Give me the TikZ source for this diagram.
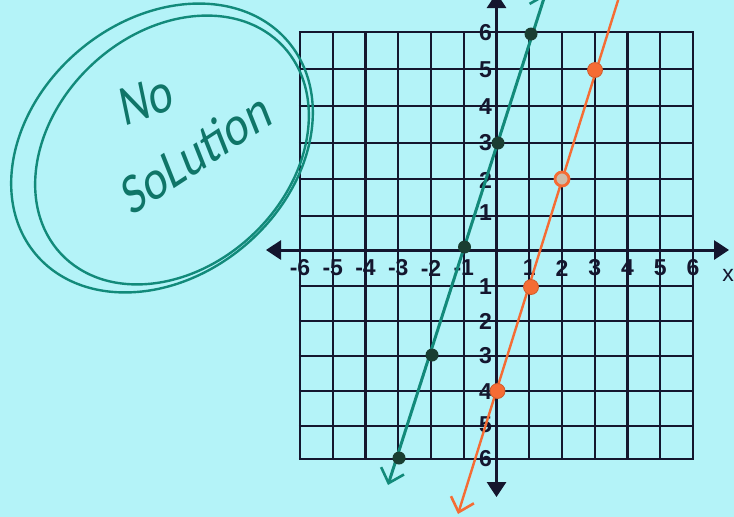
\documentclass[tikz,border=0pt]{standalone}
\usepackage{fontspec}
\setmainfont{Liberation Sans}
\newfontfamily\handfont{Carlito}
\usetikzlibrary{arrows.meta}
\definecolor{bgc}{RGB}{180,243,248}
\definecolor{gridc}{RGB}{20,22,46}
\definecolor{tealc}{RGB}{18,138,122}
\definecolor{tealdot}{RGB}{26,62,50}
\definecolor{orngc}{RGB}{245,108,52}
\tikzset{hbarb/.tip={Straight Barb[length=13pt,width=24pt,line width=2.6pt]},
         hbarbr/.tip={Straight Barb[length=13pt,width=24pt,line width=2.6pt,left]}}
\begin{document}
\begin{tikzpicture}[x=1pt,y=-1pt,
  gridline/.style={draw=gridc,line width=2.4pt},
  axisline/.style={draw=gridc,line width=3pt,{Triangle[length=15pt,width=19pt]}-{Triangle[length=15pt,width=19pt]}},
  lbl/.style={font=\bfseries\fontsize{23}{23}\selectfont,text=gridc,inner sep=0pt},
  gdot/.style={circle,fill=tealdot,minimum size=13pt,inner sep=0pt},
  odot/.style={circle,fill=orngc,draw=orngc!85!black,line width=0.8pt,minimum size=15pt,inner sep=0pt},
  oring/.style={circle,draw=orngc,line width=2.8pt,fill=orngc!40!bgc,minimum size=14pt,inner sep=0pt},
  gline/.style={draw=tealc,line width=3pt,line cap=round},
  oline/.style={draw=orngc,line width=2.4pt,line cap=round},
  ring/.style={draw=tealc,line width=2.4pt},
  handtxt/.style={font=\handfont\fontsize{58}{58}\selectfont,text=tealc!85!black,inner sep=0pt,xscale=0.78}]
\useasboundingbox (0,0) rectangle (734,517);
\clip (0,0) rectangle (734,517);
\fill[bgc] (0,0) rectangle (734,517);

% grid
\foreach \i in {0,...,12} \draw[gridline] ({300+\i*32.75},32) -- ({300+\i*32.75},459);
\foreach \py in {32,69,106,143,179,216,286,321,356,391,426,459} \draw[gridline] (298.8,\py) -- (694.2,\py);

% axes
\coordinate (xleft) at (266,250);
\coordinate (xright) at (729,250);
\coordinate (ybot) at (496.5,497);
\coordinate (ytop) at (496.5,-7);
\draw[axisline] (xleft) -- (xright);
\draw[axisline] (ybot) -- (ytop);

% x labels
\foreach \i/\t in {0/-6,1/-5,2/-4,3/-3,4/-2,5/-1,7/1,8/2,9/3,10/4,11/5,12/6}
  \node[lbl] (xl\i) at ({300+\i*32.75},268) {\t};
\node[font=\fontsize{23}{23}\selectfont,text=gridc,inner sep=0pt] (xname) at (728,275) {x};

% y labels
\foreach \py/\t/\n in {33/6/a,70/5/b,107/4/c,143/3/d,180/2/e,213/1/f,287/1/g,321/2/h,356/3/i,392/4/j,425/5/k,459/6/l}
  \node[lbl,anchor=east] (yl\n) at (492,\py) {\t};

% green line y = 3x + 3
\coordinate (gstart) at (388,485);
\coordinate (gend) at (546,-8);
\draw[gline,{hbarb}-{hbarbr}] (gstart) -- (gend);
\node[gdot] (g1) at (399,458) {};
\node[gdot] (g2) at (432,355) {};
\node[gdot] (g3) at (464.5,247) {};
\node[gdot] (g4) at (498,143) {};
\node[gdot] (g5) at (531,34) {};

% orange line y = 3x - 4
\coordinate (ostart) at (458,514);
\coordinate (oend) at (620,-6);
\draw[oline,{hbarb}-] (ostart) -- (oend);
\node[odot] (o1) at (497.5,391) {};
\node[odot] (o2) at (531,287) {};
\node[oring] (o3) at (562,179) {};
\node[odot] (o4) at (595,70) {};

% No Solution
\draw[ring] (162,148) ellipse [x radius=165, y radius=128, rotate=40];
\draw[ring] (172,150) ellipse [x radius=152, y radius=117, rotate=43];
\node[handtxt,rotate=15] (notxt) at (146,100) {No};
\node[handtxt,rotate=27] (soltxt) at (196,152) {SoLution};
\end{tikzpicture}
\end{document}
